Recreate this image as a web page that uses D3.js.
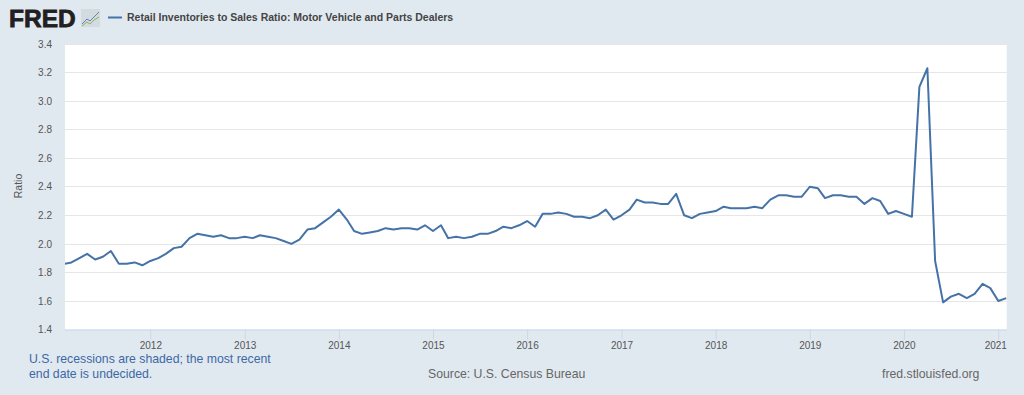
<!DOCTYPE html>
<html>
<head>
  <title>Retail Inventories to Sales Ratio</title>
  <script src="https://d3js.org/d3.v7.min.js"></script>
  <style>
  body, html{
    margin: 0;
    padding: 0;
    background: #e1e9f0;
    overflow: hidden;
  }
  text{
    font-family: "Liberation Sans", Arial, sans-serif;
  }
  .axis text{
    font-size: 10px;
    fill: #555;
  }
  </style>
</head>
<body>
  <div id='chart'></div>
  <script>
  var startMonth = "2011-02-01"
  var yearTicks = [2012, 2013, 2014, 2015, 2016, 2017, 2018, 2019, 2020, 2021]
  var ratioTicks = [1.4, 1.6, 1.8, 2.0, 2.2, 2.4, 2.6, 2.8, 3.0, 3.2, 3.4]

  // monthly values, feb 2011 to feb 2021
  var ratio2011 = [1.86, 1.87, 1.90, 1.93, 1.89, 1.91, 1.95, 1.86, 1.86, 1.87, 1.85]
  var ratio2012 = [1.88, 1.90, 1.93, 1.97, 1.98, 2.04, 2.07, 2.06, 2.05, 2.06, 2.04, 2.04]
  var ratio2013 = [2.05, 2.04, 2.06, 2.05, 2.04, 2.02, 2.00, 2.03, 2.10, 2.11, 2.15, 2.19]
  var ratio2014 = [2.24, 2.17, 2.09, 2.07, 2.08, 2.09, 2.11, 2.10, 2.11, 2.11, 2.10, 2.13]
  var ratio2015 = [2.09, 2.13, 2.04, 2.05, 2.04, 2.05, 2.07, 2.07, 2.09, 2.12, 2.11, 2.13]
  var ratio2016 = [2.16, 2.12, 2.21, 2.21, 2.22, 2.21, 2.19, 2.19, 2.18, 2.20, 2.24, 2.17]
  var ratio2017 = [2.20, 2.24, 2.31, 2.29, 2.29, 2.28, 2.28, 2.35, 2.20, 2.18, 2.21, 2.22]
  var ratio2018 = [2.23, 2.26, 2.25, 2.25, 2.25, 2.26, 2.25, 2.31, 2.34, 2.34, 2.33, 2.33]
  var ratio2019 = [2.40, 2.39, 2.32, 2.34, 2.34, 2.33, 2.33, 2.28, 2.32, 2.30, 2.21, 2.23]
  var ratio2020 = [2.21, 2.19, 3.10, 3.23, 1.88, 1.59, 1.63, 1.65, 1.62, 1.65, 1.72, 1.69]
  var ratio2021 = [1.60, 1.62]

  var values = [].concat(ratio2011, ratio2012, ratio2013, ratio2014, ratio2015, ratio2016,
    ratio2017, ratio2018, ratio2019, ratio2020, ratio2021)

  var start = new Date(startMonth + "T00:00:00")
  var data = values.map(function(v, i){
    return {date: d3.timeMonth.offset(start, i), value: v}
  })

  var w = 1024, h = 395
  var margin = {top: 44, right: 17.3, bottom: 65.5, left: 65}
  var width = w - margin.left - margin.right
  var height = h - margin.top - margin.bottom

  var svg = d3.select("#chart").append("svg")
    .attr("width", w)
    .attr("height", h)

  var g = svg.append("g")
    .attr("transform", "translate(" + margin.left + "," + margin.top + ")")

  // series starts just left of the plot edge, so it gets clipped
  var x = d3.scaleTime()
    .domain([start, data[data.length - 1].date])
    .range([-0.8, width - 0.4])
  var y = d3.scaleLinear().domain([1.4, 3.4]).range([height, 0])

  svg.append("clipPath")
    .attr("id", "plot-clip")
    .append("rect")
      .attr("width", width)
      .attr("height", height)

  g.append("rect")
    .attr("width", width)
    .attr("height", height)
    .attr("fill", "#fff")

  // gridlines
  g.selectAll(".grid")
    .data(ratioTicks.slice(1))
    .enter().append("line")
      .attr("class", "grid")
      .attr("x1", 0)
      .attr("x2", width)
      .attr("y1", function(d){ return Math.round(y(d) - 0.3) + 0.5 })
      .attr("y2", function(d){ return Math.round(y(d) - 0.3) + 0.5 })
      .attr("stroke", "#e6e6e6")

  var xAxis = g.append("g")
    .attr("class", "axis axis--x")
    .attr("transform", "translate(0," + height + ")")
    .call(d3.axisBottom(x)
      .tickValues(yearTicks.map(function(yr){ return new Date(yr, 0, 1) }))
      .tickFormat(d3.timeFormat("%Y"))
      .tickSize(10)
      .tickPadding(2))
  xAxis.select(".domain").attr("stroke", "#ccd6eb").attr("d", "M0,0.5H" + width)
  xAxis.selectAll(".tick line").attr("stroke", "#ccd6eb")
  xAxis.selectAll("text").attr("fill", "#555")
  // highcharts nudges the last label back inside the plot
  xAxis.select(".tick:last-of-type text").attr("x", -3)

  var yAxis = g.append("g")
    .attr("class", "axis axis--y")
    .call(d3.axisLeft(y)
      .tickValues(ratioTicks)
      .tickFormat(d3.format(".1f"))
      .tickSize(0)
      .tickPadding(13))
  yAxis.select(".domain").remove()
  yAxis.selectAll("text").attr("fill", "#555")

  var line = d3.line()
    .x(function(d){ return x(d.date) })
    .y(function(d){ return y(d.value) })

  g.append("path")
    .datum(data)
    .attr("d", line)
    .attr("clip-path", "url(#plot-clip)")
    .attr("fill", "none")
    .attr("stroke", "#4572a7")
    .attr("stroke-width", 2)
    .attr("stroke-linejoin", "round")

  svg.append("text")
    .attr("transform", "translate(21.5,186) rotate(-90)")
    .attr("text-anchor", "middle")
    .attr("font-size", 10.5)
    .attr("fill", "#555")
    .text("Ratio")

  // logo
  svg.append("text")
    .attr("x", 9)
    .attr("y", 27)
    .attr("font-size", 24.5)
    .attr("font-weight", "bold")
    .attr("fill", "#231f20")
    .attr("stroke", "#231f20")
    .attr("stroke-width", 0.8)
    .text("FRED")

  var logo = svg.append("g").attr("transform", "translate(81,9)")
  logo.append("rect")
    .attr("width", 19)
    .attr("height", 18)
    .attr("rx", 1)
    .attr("fill", "#d3dae0")
  logo.append("path")
    .attr("d", "M1,15 L6,10 L9,12 L13,8 L18,3")
    .attr("fill", "none")
    .attr("stroke", "#5c84b1")
    .attr("stroke-width", 1)
  logo.append("path")
    .attr("d", "M1,17 L6,13 L9,15 L13,11 L18,8")
    .attr("fill", "none")
    .attr("stroke", "#8fb163")
    .attr("stroke-width", 1)

  // legend
  svg.append("line")
    .attr("x1", 108)
    .attr("x2", 122)
    .attr("y1", 17.5)
    .attr("y2", 17.5)
    .attr("stroke", "#4572a7")
    .attr("stroke-width", 2)
  svg.append("text")
    .attr("x", 127)
    .attr("y", 21)
    .attr("font-size", 10.5)
    .attr("font-weight", "bold")
    .attr("fill", "#444")
    .text("Retail Inventories to Sales Ratio: Motor Vehicle and Parts Dealers")

  // footer
  svg.selectAll(".note")
    .data(["U.S. recessions are shaded; the most recent", "end date is undecided."])
    .enter().append("text")
      .attr("class", "note")
      .attr("x", 29)
      .attr("y", function(d, i){ return 362.5 + i * 15 })
      .attr("font-size", 12.25)
      .attr("fill", "#3d68a5")
      .text(function(d){ return d })
  svg.append("text")
    .attr("x", 428)
    .attr("y", 377.5)
    .attr("font-size", 12.25)
    .attr("fill", "#666")
    .text("Source: U.S. Census Bureau")
  svg.append("text")
    .attr("x", 882)
    .attr("y", 377.5)
    .attr("font-size", 12.25)
    .attr("fill", "#666")
    .text("fred.stlouisfed.org")
  </script>
</body>
</html>
